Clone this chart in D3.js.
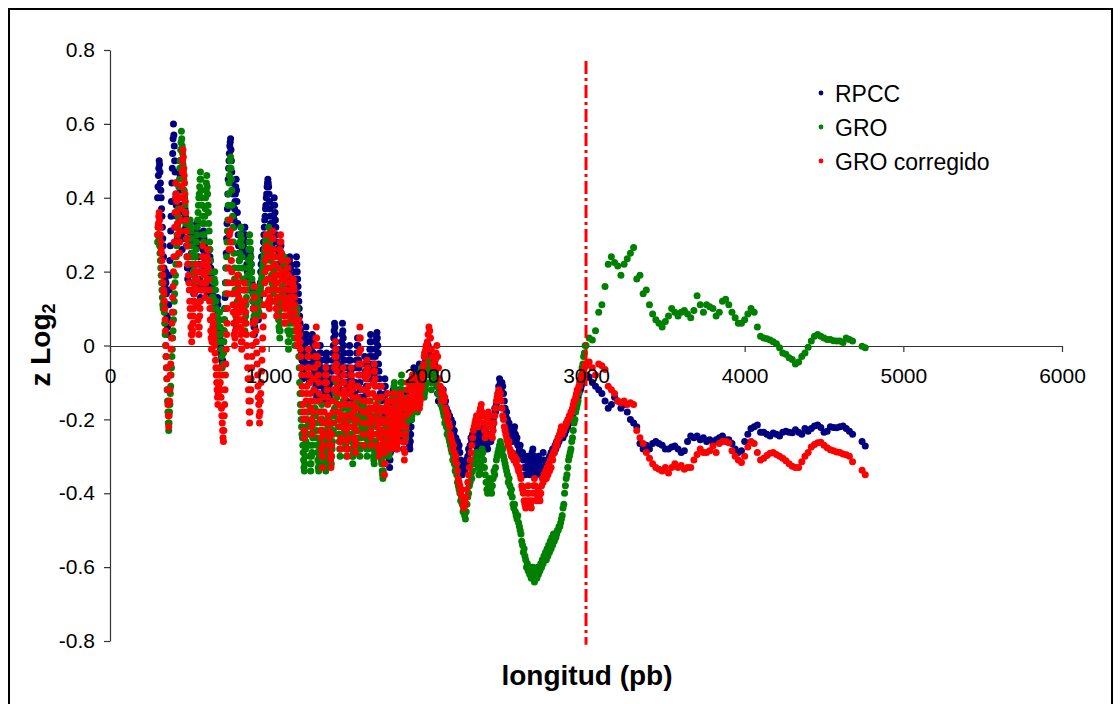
<!DOCTYPE html>
<html>
<head>
<meta charset="utf-8">
<script src="https://cdn.jsdelivr.net/npm/d3@7"></script>
<style>
  html, body { margin: 0; padding: 0; background: #fff; }
  svg { display: block; font-family: "Liberation Sans", Arial, sans-serif; }
</style>
</head>
<body>
<svg id="chart" width="1120" height="704"></svg>
<script>
// ---------------- data ----------------
const seriesNames  = ["RPCC", "GRO", "GRO corregido"];
const seriesColors = ["#000080", "#008000", "#ff0000"];
const xTicks = [0, 1000, 2000, 3000, 4000, 5000, 6000];
const yTicks = [-0.8, -0.6, -0.4, -0.2, 0, 0.2, 0.4, 0.6, 0.8];

// probe tiling (bp): fine block every 2.5 bp, middle block every 5 bp, sparse block every 20 bp
const fineStart = 300,    fineStep = 2.5;
const midStart = 2000,    midStep = 5;
const sparseStart = 3000, sparseStep = 20;

// ---- RPCC ----
const rpccFine = [
  0.40,0.43,0.46,0.48,0.50,0.49,0.47,0.44,0.42,0.40,0.37,0.35,0.32,0.29,0.27,0.24,0.21,0.19,0.16,0.18,
  0.20,0.17,0.14,0.11,0.08,0.05,0.03,0.07,0.11,0.15,0.19,0.23,0.27,0.31,0.35,0.39,0.44,0.48,0.52,0.56,
  0.60,0.57,0.54,0.50,0.47,0.44,0.41,0.38,0.35,0.32,0.29,0.33,0.36,0.40,0.43,0.47,0.50,0.46,0.42,0.38,
  0.34,0.30,0.26,0.29,0.31,0.34,0.36,0.38,0.40,0.37,0.35,0.32,0.29,0.27,0.24,0.21,0.18,0.21,0.24,0.27,
  0.29,0.31,0.33,0.30,0.28,0.25,0.22,0.20,0.17,0.15,0.12,0.14,0.17,0.19,0.22,0.24,0.27,0.29,0.31,0.33,
  0.31,0.29,0.27,0.24,0.22,0.20,0.18,0.16,0.13,0.15,0.17,0.20,0.22,0.24,0.26,0.29,0.31,0.29,0.27,0.25,
  0.23,0.21,0.19,0.17,0.16,0.14,0.16,0.18,0.20,0.22,0.24,0.26,0.24,0.23,0.21,0.19,0.18,0.16,0.14,0.12,
  0.10,0.08,0.06,0.05,0.03,0.02,0.04,0.06,0.08,0.10,0.12,0.13,0.11,0.09,0.07,0.05,0.04,0.02,0.00,-0.01,
  -0.02,-0.03,-0.04,-0.05,-0.04,-0.02,0.01,0.04,0.07,0.10,0.13,0.17,0.21,0.25,0.29,0.33,0.37,0.41,0.45,0.48,
  0.50,0.52,0.54,0.55,0.56,0.53,0.50,0.47,0.44,0.41,0.38,0.35,0.32,0.34,0.37,0.39,0.41,0.43,0.45,0.42,
  0.39,0.36,0.33,0.30,0.27,0.25,0.23,0.25,0.27,0.28,0.30,0.32,0.30,0.28,0.26,0.25,0.27,0.29,0.30,0.32,
  0.32,0.30,0.28,0.26,0.24,0.22,0.20,0.18,0.15,0.17,0.19,0.21,0.23,0.25,0.26,0.24,0.22,0.20,0.17,0.15,
  0.12,0.10,0.07,0.05,0.03,0.05,0.07,0.09,0.11,0.13,0.14,0.12,0.10,0.08,0.07,0.09,0.11,0.13,0.15,0.17,
  0.20,0.22,0.24,0.22,0.21,0.23,0.26,0.28,0.30,0.32,0.34,0.35,0.37,0.38,0.40,0.41,0.43,0.44,0.45,0.44,
  0.43,0.41,0.39,0.37,0.35,0.33,0.31,0.29,0.27,0.29,0.31,0.33,0.35,0.38,0.40,0.38,0.36,0.34,0.32,0.30,
  0.28,0.26,0.24,0.22,0.21,0.22,0.24,0.25,0.26,0.27,0.28,0.27,0.25,0.24,0.23,0.21,0.20,0.21,0.23,0.22,
  0.21,0.19,0.17,0.16,0.14,0.12,0.14,0.15,0.17,0.18,0.20,0.21,0.23,0.24,0.22,0.21,0.19,0.17,0.16,0.14,
  0.12,0.11,0.10,0.12,0.13,0.15,0.17,0.18,0.20,0.22,0.24,0.22,0.20,0.18,0.16,0.14,0.12,0.10,0.08,0.06,
  0.04,0.02,0.00,-0.02,-0.04,-0.06,-0.09,-0.07,-0.05,-0.04,-0.02,0.00,0.02,0.03,0.05,0.03,0.01,-0.01,-0.03,-0.05,
  -0.08,-0.09,-0.10,-0.08,-0.06,-0.05,-0.03,-0.01,0.01,0.02,0.03,0.01,0.00,-0.02,-0.04,-0.05,-0.07,-0.08,-0.10,-0.11,
  -0.13,-0.14,-0.15,-0.13,-0.11,-0.09,-0.07,-0.05,-0.04,-0.02,0.00,-0.02,-0.04,-0.06,-0.07,-0.09,-0.11,-0.13,-0.15,-0.14,
  -0.12,-0.10,-0.08,-0.06,-0.04,-0.03,-0.02,-0.04,-0.06,-0.07,-0.09,-0.11,-0.13,-0.14,-0.15,-0.13,-0.12,-0.10,-0.09,-0.07,
  -0.06,-0.04,-0.02,0.00,0.02,0.04,0.06,0.05,0.03,0.01,-0.01,-0.02,-0.04,-0.06,-0.07,-0.09,-0.11,-0.12,-0.10,-0.09,
  -0.07,-0.05,-0.03,-0.01,0.01,0.03,0.06,0.04,0.02,0.00,-0.02,-0.04,-0.06,-0.08,-0.10,-0.12,-0.15,-0.13,-0.11,-0.10,
  -0.08,-0.06,-0.04,-0.02,0.00,-0.02,-0.04,-0.07,-0.09,-0.11,-0.13,-0.15,-0.17,-0.19,-0.17,-0.16,-0.14,-0.13,-0.11,-0.10,
  -0.06,-0.04,-0.02,0.00,0.02,0.00,-0.02,-0.04,-0.06,-0.08,-0.10,-0.12,-0.14,-0.16,-0.18,-0.20,-0.18,-0.16,-0.14,-0.12,
  -0.08,-0.05,-0.03,-0.05,-0.07,-0.09,-0.11,-0.13,-0.15,-0.13,-0.11,-0.09,-0.07,-0.05,-0.03,-0.01,0.01,0.03,0.01,-0.01,
  -0.03,-0.05,-0.07,-0.08,-0.09,-0.10,-0.08,-0.06,-0.05,-0.03,-0.01,0.01,0.02,0.035,0.02,0.00,-0.02,-0.05,-0.07,-0.09,
  -0.11,-0.13,-0.15,-0.17,-0.19,-0.21,-0.23,-0.25,-0.23,-0.20,-0.17,-0.14,-0.11,-0.09,-0.11,-0.13,-0.15,-0.17,-0.19,-0.21,
  -0.23,-0.25,-0.27,-0.29,-0.31,-0.33,-0.31,-0.29,-0.26,-0.24,-0.21,-0.19,-0.16,-0.14,-0.12,-0.14,-0.16,-0.18,-0.20,-0.22,
  -0.24,-0.26,-0.28,-0.26,-0.24,-0.22,-0.20,-0.18,-0.16,-0.14,-0.12,-0.14,-0.15,-0.17,-0.19,-0.20,-0.22,-0.23,-0.25,-0.26,
  -0.28,-0.26,-0.24,-0.22,-0.20,-0.18,-0.16,-0.14,-0.13,-0.15,-0.17,-0.19,-0.21,-0.23,-0.25,-0.27,-0.28,-0.26,-0.24,-0.22,
  -0.20,-0.17,-0.15,-0.12,-0.10,-0.08,-0.06,-0.08,-0.10,-0.11,-0.13,-0.15,-0.14,-0.13,-0.11,-0.10,-0.09,-0.08,-0.07,-0.06,
  -0.05,-0.06,-0.08,-0.09,-0.10,-0.11,-0.12,-0.11,-0.10,-0.10,-0.09,-0.08,-0.07,-0.06,-0.06,-0.05,-0.04,-0.04,-0.03,-0.02
];
const rpccMid = [
  -0.02,0.00,-0.02,-0.04,-0.06,-0.08,-0.06,-0.04,-0.03,-0.05,
  -0.07,-0.09,-0.11,-0.13,-0.15,-0.13,-0.11,-0.12,-0.14,-0.15,
  -0.12,-0.14,-0.16,-0.15,-0.17,-0.19,-0.18,-0.20,-0.19,-0.21,
  -0.20,-0.22,-0.21,-0.24,-0.23,-0.26,-0.25,-0.27,-0.26,-0.28,
  -0.27,-0.29,-0.31,-0.33,-0.35,-0.34,-0.32,-0.34,-0.33,-0.31,
  -0.32,-0.30,-0.28,-0.29,-0.27,-0.25,-0.26,-0.24,-0.23,-0.24,
  -0.25,-0.27,-0.26,-0.28,-0.26,-0.24,-0.23,-0.25,-0.27,-0.26,
  -0.24,-0.22,-0.21,-0.23,-0.25,-0.27,-0.28,-0.26,-0.24,-0.25,
  -0.26,-0.24,-0.22,-0.20,-0.19,-0.17,-0.18,-0.16,-0.15,-0.13,
  -0.11,-0.09,-0.10,-0.12,-0.10,-0.11,-0.13,-0.15,-0.17,-0.19,
  -0.18,-0.20,-0.22,-0.21,-0.23,-0.25,-0.24,-0.26,-0.24,-0.23,
  -0.22,-0.24,-0.26,-0.25,-0.27,-0.29,-0.28,-0.27,-0.29,-0.30,
  -0.29,-0.31,-0.33,-0.35,-0.33,-0.31,-0.30,-0.32,-0.34,-0.35,
  -0.33,-0.31,-0.29,-0.28,-0.30,-0.32,-0.34,-0.35,-0.33,-0.31,
  -0.30,-0.32,-0.34,-0.35,-0.33,-0.31,-0.29,-0.31,-0.33,-0.34,
  -0.32,-0.33,-0.31,-0.32,-0.30,-0.31,-0.29,-0.30,-0.28,-0.29,
  -0.29,-0.27,-0.28,-0.26,-0.27,-0.25,-0.26,-0.24,-0.25,-0.23,
  -0.24,-0.25,-0.23,-0.24,-0.22,-0.23,-0.21,-0.22,-0.20,-0.21,
  -0.20,-0.19,-0.18,-0.19,-0.17,-0.16,-0.17,-0.15,-0.16,-0.14,
  -0.14,-0.13,-0.12,-0.12,-0.11,-0.10,-0.10,-0.09,-0.09,-0.08
];
const rpccSparse = [
  -0.08,-0.085,-0.10,-0.11,-0.12,-0.13,-0.15,-0.17,-0.16,-0.14,
  -0.15,-0.17,-0.16,-0.18,-0.20,-0.21,-0.22,-0.265,-0.28,-0.27,
  -0.28,-0.265,-0.26,-0.265,-0.27,-0.28,-0.28,-0.275,-0.272,-0.28,
  -0.29,-0.285,-0.26,-0.245,-0.25,-0.245,-0.255,-0.25,-0.26,-0.255,
  -0.26,-0.255,-0.25,-0.245,-0.255,-0.255,-0.265,-0.28,-0.29,-0.285,
  -0.26,-0.24,-0.225,-0.22,-0.215,-0.235,-0.235,-0.24,-0.245,-0.237,
  -0.24,-0.245,-0.235,-0.232,-0.235,-0.236,-0.228,-0.235,-0.24,-0.225,
  -0.232,-0.225,-0.218,-0.215,-0.222,-0.235,-0.232,-0.22,-0.222,-0.223,
  -0.22,-0.218,-0.225,-0.232,-0.24,null,null,-0.26,-0.272
];

// ---- GRO ----
const groFine = [
  0.28,0.30,0.32,0.30,0.29,0.27,0.25,0.23,0.21,0.19,0.17,0.15,0.13,0.11,0.10,0.11,0.12,0.09,0.06,0.03,
  0.00,-0.03,-0.06,-0.09,-0.12,-0.15,-0.18,-0.21,-0.23,-0.21,-0.18,-0.16,-0.13,-0.11,-0.08,-0.06,-0.03,-0.01,0.02,0.04,
  0.07,0.09,0.12,0.14,0.17,0.19,0.22,0.24,0.27,0.30,0.32,0.35,0.37,0.40,0.43,0.45,0.48,0.50,0.53,0.55,
  0.58,0.56,0.54,0.52,0.49,0.47,0.45,0.42,0.40,0.38,0.36,0.33,0.31,0.29,0.27,0.24,0.22,0.24,0.27,0.29,
  0.31,0.33,0.34,0.32,0.31,0.29,0.27,0.25,0.24,0.22,0.20,0.19,0.17,0.19,0.20,0.22,0.24,0.26,0.28,0.30,
  0.32,0.34,0.36,0.38,0.40,0.41,0.43,0.45,0.47,0.45,0.42,0.40,0.38,0.35,0.33,0.30,0.28,0.30,0.33,0.35,
  0.37,0.40,0.42,0.44,0.46,0.43,0.41,0.38,0.36,0.33,0.31,0.28,0.26,0.23,0.20,0.18,0.15,0.13,0.10,0.12,
  0.13,0.15,0.17,0.18,0.20,0.17,0.15,0.12,0.10,0.08,0.06,0.03,0.01,0.03,0.05,0.07,0.09,0.07,0.05,0.03,
  0.01,-0.01,-0.03,-0.06,-0.08,-0.05,-0.02,0.01,0.04,0.07,0.10,0.14,0.17,0.21,0.24,0.28,0.31,0.34,0.38,0.41,
  0.44,0.46,0.48,0.50,0.51,0.48,0.45,0.42,0.38,0.35,0.32,0.28,0.25,0.21,0.18,0.15,0.11,0.08,0.05,0.07,
  0.09,0.12,0.14,0.16,0.19,0.21,0.23,0.25,0.28,0.30,0.32,0.29,0.27,0.24,0.21,0.18,0.15,0.12,0.10,0.07,
  0.04,0.06,0.08,0.11,0.13,0.15,0.17,0.19,0.21,0.23,0.26,0.28,0.30,0.28,0.26,0.24,0.22,0.20,0.18,0.16,
  0.14,0.12,0.10,0.08,0.06,0.07,0.09,0.10,0.12,0.13,0.14,0.13,0.11,0.10,0.08,0.09,0.11,0.12,0.14,0.15,
  0.16,0.17,0.18,0.19,0.20,0.21,0.22,0.23,0.24,0.25,0.26,0.27,0.28,0.29,0.28,0.27,0.26,0.27,0.29,0.30,
  0.32,0.30,0.28,0.27,0.25,0.23,0.21,0.19,0.17,0.15,0.12,0.14,0.16,0.18,0.20,0.22,0.24,0.22,0.21,0.19,
  0.17,0.15,0.13,0.11,0.09,0.07,0.05,0.04,0.02,0.04,0.06,0.08,0.10,0.12,0.14,0.16,0.18,0.20,0.22,0.24,
  0.22,0.20,0.18,0.15,0.13,0.11,0.08,0.06,0.04,0.01,-0.01,0.01,0.03,0.04,0.06,0.08,0.10,0.12,0.13,0.15,
  0.13,0.11,0.08,0.06,0.04,0.02,0.00,0.02,0.04,0.06,0.08,0.09,0.10,0.07,0.04,0.00,-0.03,-0.06,-0.10,-0.13,
  -0.16,-0.18,-0.20,-0.22,-0.24,-0.25,-0.27,-0.29,-0.31,-0.33,-0.34,-0.32,-0.30,-0.28,-0.26,-0.24,-0.22,-0.20,-0.18,-0.16,
  -0.18,-0.21,-0.24,-0.27,-0.30,-0.32,-0.34,-0.32,-0.30,-0.29,-0.27,-0.25,-0.23,-0.21,-0.19,-0.17,-0.15,-0.17,-0.19,-0.21,
  -0.23,-0.25,-0.27,-0.29,-0.31,-0.33,-0.34,-0.32,-0.30,-0.28,-0.26,-0.23,-0.21,-0.18,-0.16,-0.18,-0.20,-0.23,-0.25,-0.27,
  -0.29,-0.31,-0.32,-0.33,-0.34,-0.32,-0.30,-0.28,-0.26,-0.24,-0.22,-0.21,-0.20,-0.22,-0.24,-0.26,-0.28,-0.30,-0.32,-0.30,
  -0.28,-0.26,-0.24,-0.23,-0.21,-0.19,-0.17,-0.15,-0.13,-0.12,-0.10,-0.12,-0.14,-0.16,-0.18,-0.20,-0.22,-0.24,-0.26,-0.28,
  -0.30,-0.28,-0.26,-0.24,-0.22,-0.20,-0.19,-0.17,-0.15,-0.17,-0.19,-0.21,-0.23,-0.25,-0.27,-0.28,-0.30,-0.28,-0.26,-0.24,
  -0.22,-0.20,-0.18,-0.17,-0.16,-0.18,-0.20,-0.22,-0.24,-0.26,-0.28,-0.30,-0.32,-0.30,-0.29,-0.27,-0.25,-0.23,-0.21,-0.19,
  -0.17,-0.16,-0.15,-0.17,-0.19,-0.21,-0.23,-0.25,-0.27,-0.28,-0.30,-0.28,-0.27,-0.25,-0.23,-0.22,-0.20,-0.19,-0.17,-0.16,
  -0.15,-0.17,-0.19,-0.21,-0.23,-0.25,-0.27,-0.28,-0.30,-0.28,-0.26,-0.24,-0.22,-0.20,-0.18,-0.17,-0.15,-0.17,-0.19,-0.21,
  -0.22,-0.24,-0.26,-0.28,-0.30,-0.31,-0.32,-0.30,-0.29,-0.27,-0.26,-0.24,-0.22,-0.21,-0.19,-0.17,-0.15,-0.17,-0.19,-0.21,
  -0.23,-0.25,-0.27,-0.29,-0.31,-0.32,-0.34,-0.35,-0.36,-0.34,-0.32,-0.30,-0.28,-0.26,-0.24,-0.22,-0.20,-0.22,-0.24,-0.25,
  -0.26,-0.28,-0.29,-0.30,-0.29,-0.27,-0.26,-0.24,-0.23,-0.21,-0.20,-0.18,-0.17,-0.15,-0.14,-0.13,-0.11,-0.10,-0.12,-0.14,
  -0.16,-0.19,-0.21,-0.23,-0.25,-0.24,-0.23,-0.21,-0.20,-0.18,-0.17,-0.15,-0.13,-0.12,-0.10,-0.08,-0.10,-0.12,-0.14,-0.16,
  -0.17,-0.19,-0.20,-0.22,-0.23,-0.24,-0.25,-0.23,-0.21,-0.20,-0.18,-0.16,-0.14,-0.12,-0.10,-0.12,-0.14,-0.16,-0.18,-0.19,
  -0.20,-0.19,-0.18,-0.17,-0.16,-0.15,-0.14,-0.13,-0.12,-0.11,-0.10,-0.12,-0.13,-0.15,-0.16,-0.18,-0.17,-0.15,-0.14,-0.13,
  -0.12,-0.10,-0.09,-0.08,-0.07,-0.06,-0.06,-0.08,-0.09,-0.10,-0.11,-0.12,-0.14,-0.13,-0.12,-0.11,-0.10,-0.08,-0.07,-0.06
];
const groMid = [
  -0.05,-0.04,-0.06,-0.08,-0.10,-0.12,-0.10,-0.08,-0.06,-0.07,
  -0.08,-0.10,-0.09,-0.11,-0.13,-0.12,-0.14,-0.16,-0.15,-0.17,
  -0.18,-0.19,-0.21,-0.20,-0.22,-0.24,-0.23,-0.25,-0.26,-0.27,
  -0.28,-0.29,-0.31,-0.30,-0.32,-0.34,-0.33,-0.35,-0.37,-0.38,
  -0.39,-0.40,-0.42,-0.41,-0.43,-0.45,-0.44,-0.46,-0.47,-0.45,
  -0.43,-0.41,-0.40,-0.38,-0.37,-0.35,-0.36,-0.34,-0.32,-0.31,
  -0.32,-0.30,-0.29,-0.31,-0.33,-0.35,-0.34,-0.32,-0.30,-0.28,
  -0.29,-0.31,-0.33,-0.35,-0.37,-0.39,-0.40,-0.38,-0.36,-0.37,
  -0.39,-0.40,-0.38,-0.36,-0.34,-0.35,-0.33,-0.31,-0.30,-0.29,
  -0.28,-0.27,-0.26,-0.27,-0.29,-0.28,-0.30,-0.31,-0.32,-0.33,
  -0.34,-0.35,-0.37,-0.36,-0.38,-0.40,-0.39,-0.41,-0.43,-0.44,
  -0.43,-0.45,-0.46,-0.47,-0.46,-0.48,-0.49,-0.50,-0.51,-0.53,
  -0.54,-0.56,-0.55,-0.57,-0.58,-0.60,-0.59,-0.61,-0.60,-0.62,
  -0.61,-0.63,-0.62,-0.60,-0.62,-0.64,-0.63,-0.61,-0.63,-0.60,
  -0.62,-0.60,-0.61,-0.59,-0.60,-0.58,-0.59,-0.57,-0.58,-0.56,
  -0.58,-0.55,-0.57,-0.54,-0.56,-0.53,-0.55,-0.52,-0.54,-0.51,
  -0.53,-0.52,-0.52,-0.51,-0.50,-0.50,-0.49,-0.49,-0.48,-0.47,
  -0.46,-0.44,-0.43,-0.40,-0.38,-0.36,-0.35,-0.33,-0.31,-0.30,
  -0.29,-0.28,-0.26,-0.25,-0.23,-0.21,-0.20,-0.18,-0.17,-0.16,
  -0.15,-0.13,-0.11,-0.09,-0.08,-0.06,-0.05,-0.03,-0.02,0.00
];
const groSparse = [
  0.00,0.02,0.015,0.04,0.09,0.11,0.16,0.22,0.24,0.225,
  0.215,0.19,0.22,0.235,0.25,0.265,0.18,0.19,0.14,0.15,
  0.11,0.085,0.07,0.06,0.05,0.065,0.08,0.10,0.09,0.08,
  0.09,0.095,0.085,0.075,0.095,0.135,0.11,0.09,0.11,0.105,
  0.10,0.08,0.09,0.12,0.125,0.11,0.09,0.075,0.06,0.06,
  0.07,0.085,0.10,0.09,0.05,0.025,0.02,0.018,0.015,0.01,
  0.005,-0.006,-0.02,-0.024,-0.033,-0.038,-0.05,-0.045,-0.03,-0.02,
  -0.005,0.012,0.025,0.03,0.025,0.02,0.016,0.016,0.013,0.012,
  0.012,0.008,0.02,0.016,0.012,null,null,-0.002,-0.006
];

// ---- GRO corregido ----
const groCorrFine = [
  0.30,0.32,0.33,0.35,0.36,0.34,0.32,0.30,0.28,0.26,0.25,0.23,0.21,0.19,0.17,0.15,0.14,0.12,0.10,0.07,
  0.04,0.00,-0.03,-0.06,-0.09,-0.12,-0.16,-0.19,-0.22,-0.19,-0.15,-0.12,-0.08,-0.05,-0.01,0.02,0.06,0.09,0.13,0.16,
  0.20,0.24,0.28,0.32,0.36,0.40,0.44,0.41,0.39,0.36,0.33,0.30,0.28,0.25,0.22,0.25,0.28,0.31,0.34,0.37,
  0.40,0.43,0.47,0.50,0.53,0.51,0.48,0.46,0.44,0.41,0.39,0.36,0.34,0.31,0.29,0.27,0.24,0.22,0.19,0.17,
  0.15,0.12,0.10,0.08,0.05,0.03,0.01,0.03,0.04,0.06,0.08,0.10,0.12,0.14,0.16,0.18,0.20,0.22,0.20,0.18,
  0.15,0.11,0.07,0.05,0.03,0.05,0.08,0.10,0.12,0.15,0.17,0.20,0.22,0.24,0.27,0.24,0.22,0.19,0.17,0.15,
  0.13,0.15,0.17,0.20,0.22,0.24,0.26,0.23,0.21,0.18,0.15,0.12,0.10,0.07,0.04,0.02,-0.01,0.01,0.03,0.05,
  0.08,0.06,0.04,0.02,0.00,-0.02,-0.04,-0.06,-0.08,-0.10,-0.12,-0.14,-0.16,-0.13,-0.11,-0.08,-0.06,-0.08,-0.10,-0.12,
  -0.14,-0.17,-0.19,-0.21,-0.23,-0.25,-0.26,-0.23,-0.19,-0.16,-0.12,-0.08,-0.05,-0.01,0.03,0.06,0.10,0.14,0.17,0.21,
  0.26,0.30,0.34,0.31,0.28,0.26,0.23,0.20,0.17,0.14,0.11,0.09,0.06,0.03,0.00,0.02,0.04,0.06,0.08,0.10,
  0.14,0.17,0.19,0.17,0.15,0.13,0.11,0.09,0.07,0.05,0.03,0.01,-0.01,0.01,0.04,0.07,0.10,0.12,0.15,0.17,
  0.15,0.12,0.09,0.06,0.03,0.00,-0.03,-0.06,-0.09,-0.12,-0.15,-0.18,-0.21,-0.18,-0.15,-0.12,-0.09,-0.06,-0.03,0.00,
  0.03,0.06,0.10,0.13,0.16,0.13,0.10,0.07,0.04,0.01,-0.02,-0.05,-0.08,-0.11,-0.14,-0.16,-0.19,-0.21,-0.18,-0.15,
  -0.13,-0.10,-0.07,-0.04,-0.01,0.02,0.05,0.08,0.11,0.14,0.17,0.20,0.23,0.26,0.30,0.27,0.24,0.21,0.18,0.15,
  0.12,0.11,0.10,0.13,0.15,0.18,0.21,0.24,0.26,0.29,0.31,0.29,0.26,0.24,0.22,0.19,0.17,0.15,0.12,0.10,
  0.08,0.10,0.13,0.15,0.17,0.19,0.21,0.24,0.26,0.28,0.30,0.28,0.25,0.23,0.20,0.18,0.15,0.13,0.11,0.08,
  0.06,0.08,0.10,0.12,0.15,0.17,0.19,0.21,0.23,0.21,0.19,0.17,0.15,0.13,0.11,0.09,0.07,0.09,0.11,0.13,
  0.15,0.17,0.18,0.16,0.15,0.13,0.11,0.09,0.07,0.06,0.04,0.02,0.00,0.02,0.04,0.05,0.07,0.05,0.03,0.01,
  -0.01,-0.03,-0.06,-0.08,-0.11,-0.13,-0.16,-0.18,-0.20,-0.23,-0.25,-0.23,-0.20,-0.18,-0.15,-0.13,-0.11,-0.08,-0.06,-0.03,
  -0.01,-0.03,-0.06,-0.08,-0.10,-0.13,-0.15,-0.17,-0.20,-0.22,-0.24,-0.21,-0.18,-0.15,-0.12,-0.09,-0.06,-0.03,0.00,0.02,
  0.05,0.02,0.00,-0.03,-0.05,-0.08,-0.10,-0.13,-0.15,-0.18,-0.20,-0.23,-0.25,-0.28,-0.30,-0.33,-0.30,-0.27,-0.24,-0.21,
  -0.18,-0.14,-0.10,-0.08,-0.06,-0.08,-0.10,-0.12,-0.14,-0.16,-0.19,-0.21,-0.23,-0.25,-0.27,-0.29,-0.31,-0.33,-0.30,-0.27,
  -0.24,-0.21,-0.18,-0.15,-0.12,-0.09,-0.06,-0.03,0.01,-0.01,-0.03,-0.05,-0.07,-0.09,-0.11,-0.13,-0.16,-0.18,-0.20,-0.22,
  -0.26,-0.28,-0.25,-0.22,-0.19,-0.16,-0.13,-0.10,-0.06,-0.08,-0.10,-0.12,-0.14,-0.16,-0.19,-0.21,-0.23,-0.26,-0.28,-0.30,
  -0.28,-0.25,-0.22,-0.19,-0.16,-0.13,-0.11,-0.08,-0.06,-0.08,-0.10,-0.12,-0.14,-0.16,-0.18,-0.20,-0.22,-0.25,-0.27,-0.29,
  -0.26,-0.23,-0.20,-0.17,-0.14,-0.11,-0.08,-0.05,-0.02,0.02,0.05,0.02,-0.01,-0.05,-0.08,-0.12,-0.15,-0.18,-0.21,-0.24,
  -0.27,-0.24,-0.21,-0.18,-0.15,-0.12,-0.09,-0.07,-0.04,-0.06,-0.08,-0.11,-0.13,-0.15,-0.17,-0.19,-0.21,-0.23,-0.25,-0.27,
  -0.24,-0.20,-0.17,-0.13,-0.10,-0.07,-0.05,-0.07,-0.09,-0.11,-0.14,-0.16,-0.18,-0.20,-0.22,-0.24,-0.27,-0.28,-0.30,-0.28,
  -0.25,-0.21,-0.18,-0.14,-0.11,-0.14,-0.17,-0.20,-0.23,-0.26,-0.29,-0.32,-0.35,-0.32,-0.29,-0.27,-0.24,-0.21,-0.18,-0.16,
  -0.13,-0.15,-0.17,-0.19,-0.21,-0.23,-0.25,-0.27,-0.28,-0.26,-0.24,-0.22,-0.20,-0.18,-0.17,-0.15,-0.13,-0.15,-0.17,-0.19,
  -0.21,-0.23,-0.25,-0.27,-0.28,-0.26,-0.24,-0.22,-0.20,-0.18,-0.17,-0.15,-0.13,-0.14,-0.16,-0.17,-0.19,-0.21,-0.22,-0.24,
  -0.26,-0.28,-0.31,-0.29,-0.26,-0.24,-0.22,-0.19,-0.17,-0.15,-0.12,-0.10,-0.12,-0.14,-0.16,-0.18,-0.16,-0.14,-0.12,-0.11,
  -0.10,-0.09,-0.09,-0.08,-0.08,-0.10,-0.12,-0.13,-0.15,-0.17,-0.16,-0.14,-0.13,-0.11,-0.10,-0.09,-0.11,-0.13,-0.14,-0.16,
  -0.17,-0.16,-0.15,-0.14,-0.12,-0.11,-0.10,-0.09,-0.08,-0.07,-0.06,-0.05,-0.03,-0.02,-0.03,-0.02,-0.01,0.00,-0.01,0.00
];
const groCorrMid = [
  0.01,0.03,0.05,0.04,0.02,-0.01,-0.03,-0.05,-0.03,-0.06,
  -0.04,-0.02,0.00,-0.03,-0.06,-0.09,-0.11,-0.13,-0.15,-0.12,
  -0.13,-0.15,-0.14,-0.17,-0.18,-0.20,-0.19,-0.21,-0.22,-0.24,
  -0.25,-0.26,-0.28,-0.27,-0.29,-0.31,-0.30,-0.32,-0.34,-0.36,
  -0.37,-0.38,-0.40,-0.39,-0.41,-0.43,-0.44,-0.42,-0.43,-0.41,
  -0.39,-0.37,-0.35,-0.33,-0.31,-0.29,-0.27,-0.25,-0.23,-0.22,
  -0.21,-0.20,-0.19,-0.21,-0.22,-0.20,-0.18,-0.17,-0.16,-0.18,
  -0.19,-0.21,-0.23,-0.25,-0.24,-0.22,-0.20,-0.18,-0.19,-0.21,
  -0.22,-0.24,-0.25,-0.23,-0.21,-0.19,-0.17,-0.15,-0.14,-0.13,
  -0.12,-0.14,-0.13,-0.15,-0.17,-0.19,-0.20,-0.22,-0.23,-0.24,
  -0.25,-0.26,-0.27,-0.26,-0.28,-0.29,-0.30,-0.29,-0.30,-0.31,
  -0.30,-0.31,-0.32,-0.31,-0.33,-0.34,-0.33,-0.35,-0.36,-0.38,
  -0.39,-0.40,-0.42,-0.43,-0.44,-0.42,-0.40,-0.38,-0.40,-0.42,
  -0.43,-0.44,-0.42,-0.40,-0.38,-0.36,-0.38,-0.40,-0.42,-0.41,
  -0.39,-0.41,-0.42,-0.40,-0.38,-0.36,-0.37,-0.35,-0.36,-0.34,
  -0.36,-0.33,-0.35,-0.32,-0.34,-0.31,-0.33,-0.30,-0.31,-0.29,
  -0.29,-0.28,-0.27,-0.27,-0.26,-0.25,-0.25,-0.24,-0.23,-0.22,
  -0.24,-0.23,-0.23,-0.22,-0.22,-0.21,-0.21,-0.20,-0.20,-0.19,
  -0.19,-0.18,-0.18,-0.17,-0.16,-0.15,-0.15,-0.14,-0.13,-0.12,
  -0.12,-0.11,-0.10,-0.10,-0.09,-0.08,-0.07,-0.07,-0.06,-0.05
];
const groCorrSparse = [
  -0.055,-0.045,-0.06,-0.08,-0.05,-0.055,-0.065,-0.11,-0.12,-0.13,
  -0.15,-0.155,-0.15,-0.16,-0.155,-0.16,-0.23,-0.25,-0.265,-0.29,
  -0.305,-0.32,-0.33,-0.335,-0.34,-0.33,-0.345,-0.33,-0.32,-0.33,
  -0.325,-0.335,-0.33,-0.33,-0.31,-0.295,-0.28,-0.29,-0.29,-0.285,
  -0.272,-0.29,-0.265,-0.26,-0.26,-0.263,-0.285,-0.30,-0.31,-0.317,
  -0.30,-0.275,-0.26,-0.265,-0.29,-0.31,-0.305,-0.298,-0.292,-0.29,
  -0.295,-0.30,-0.305,-0.312,-0.32,-0.327,-0.33,-0.33,-0.315,-0.30,
  -0.29,-0.275,-0.268,-0.263,-0.262,-0.27,-0.277,-0.282,-0.285,-0.288,
  -0.29,-0.294,-0.296,-0.30,-0.315,null,null,-0.338,-0.35
];

// vertical marker at the 3000 bp boundary
const cutoffPosition = 3000;
const cutoffSpan = [0.77, -0.81];

// ---------------- drawing ----------------
const W = 1120, H = 704;
const svg = d3.select("#chart");
const FONT = '"Liberation Sans", Arial, sans-serif';

svg.append("rect").attr("width", W).attr("height", H).attr("fill", "#fff");

// chart frame
svg.append("rect")
  .attr("x", 9).attr("y", 9)
  .attr("width", 1103).attr("height", 730)
  .attr("fill", "none").attr("stroke", "#000").attr("stroke-width", 2);

const x = d3.scaleLinear().domain([0, 6000]).range([110, 1062]);
const y = d3.scaleLinear().domain([-0.8, 0.8]).range([641, 50]);
const yZero = Math.round(y(0));

const fmtY = d => d === 0 ? "0" : d.toFixed(1);
const makeYAxis = () => d3.axisLeft(y).tickValues(yTicks).tickSize(6).tickSizeOuter(0).tickPadding(9).tickFormat(fmtY);
const makeXAxis = () => d3.axisBottom(x).tickValues(xTicks).tickSize(6).tickSizeOuter(0).tickPadding(16).tickFormat(d3.format("d"));

// axis lines and tick marks sit under the markers
const under = svg.append("g");
under.append("g").attr("transform", `translate(${x(0)},0)`).call(makeYAxis());
under.append("g").attr("transform", `translate(0,${yZero})`).call(makeXAxis());
under.selectAll("text").remove();
under.selectAll("path, line").attr("stroke", "#333").attr("stroke-width", 1.2);

// assemble series from the three probe blocks
const blocks = [
  { start: fineStart, step: fineStep },
  { start: midStart, step: midStep },
  { start: sparseStart, step: sparseStep }
];
const seriesValues = [
  [rpccFine, rpccMid, rpccSparse],
  [groFine, groMid, groSparse],
  [groCorrFine, groCorrMid, groCorrSparse]
];
const series = seriesValues.map((arrays, k) => {
  const pts = [];
  arrays.forEach((arr, b) => {
    arr.forEach((v, i) => {
      if (v != null) pts.push({ pos: blocks[b].start + i * blocks[b].step, val: v });
    });
  });
  return { name: seriesNames[k], color: seriesColors[k], points: pts };
});

const marks = svg.append("g");
series.forEach(s => {
  marks.append("g")
    .selectAll("circle")
    .data(s.points)
    .join("circle")
    .attr("cx", d => x(d.pos))
    .attr("cy", d => y(d.val))
    .attr("r", 3.5)
    .attr("fill", s.color);
});

// dash-dot boundary line
svg.append("line")
  .attr("x1", x(cutoffPosition)).attr("x2", x(cutoffPosition))
  .attr("y1", y(cutoffSpan[0])).attr("y2", y(cutoffSpan[1]))
  .attr("stroke", "#ff0000").attr("stroke-width", 3)
  .attr("stroke-dasharray", "13,4,3,4");

// tick labels drawn above the markers
const over = svg.append("g");
over.append("g").attr("transform", `translate(${x(0)},0)`).call(makeYAxis());
over.append("g").attr("transform", `translate(0,${yZero})`).call(makeXAxis());
over.selectAll("path, line").remove();
over.selectAll("g").attr("font-family", FONT).attr("font-size", 21);
over.selectAll("text").attr("fill", "#000");

// axis titles
svg.append("text")
  .attr("x", 587).attr("y", 685)
  .attr("text-anchor", "middle")
  .attr("font-family", FONT).attr("font-weight", "bold").attr("font-size", 28)
  .attr("fill", "#000")
  .text("longitud (pb)");

const yTitle = svg.append("text")
  .attr("transform", "translate(50,345) rotate(-90)")
  .attr("text-anchor", "middle")
  .attr("font-family", FONT).attr("font-weight", "bold").attr("font-size", 28)
  .attr("fill", "#000");
yTitle.append("tspan").text("z Log");
yTitle.append("tspan").attr("font-size", 18).attr("dy", 5).text("2");

// legend
const legend = svg.append("g");
series.forEach((s, i) => {
  const cy = 93 + i * 34;
  legend.append("circle").attr("cx", 821).attr("cy", cy).attr("r", 2.4).attr("fill", s.color);
  legend.append("text")
    .attr("x", 835).attr("y", cy + 8.5)
    .attr("font-family", FONT).attr("font-size", 23).attr("fill", "#000")
    .text(s.name);
});
</script>
</body>
</html>
